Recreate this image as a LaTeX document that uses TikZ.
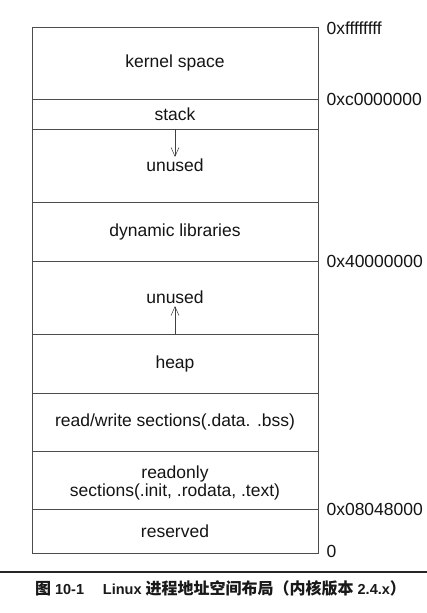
\documentclass[tikz,border=0pt]{standalone}
\usepackage{fontspec}
\setmainfont{Liberation Sans}
\newfontfamily\cjk{Noto Sans CJK SC}
\usetikzlibrary{arrows.meta}

\newcommand{\hanzi}[1]{{\cjk\bfseries\fontsize{16}{16}\selectfont #1}}

\tikzset{
  seg/.style={draw=black!70, line width=0.7pt, rectangle, inner sep=0pt,
              minimum width=286pt, text=black!92,
              font=\fontsize{17.5}{17.5}\selectfont, align=center},
  segtext/.style={inner sep=0pt, text=black!92, align=center,
              font=\fontsize{17.5}{18}\selectfont},
  addr/.style={anchor=west, inner sep=0pt, text=black!92,
               font=\fontsize{17.5}{17.5}\selectfont},
  growarrow/.style={draw=black!75, line width=0.6pt,
               -{Straight Barb[length=9pt,width=8pt,line width=0.5pt]}},
  captionrule/.style={draw=black!85, line width=1.6pt},
}

\begin{document}
\begin{tikzpicture}[x=1pt,y=-1pt]
  \useasboundingbox (0,0) rectangle (427,613);

  % address-space segments, top (high addresses) to bottom
  \node[seg, minimum height=72pt] (kernel)   at (175,63)    {kernel space};
  \node[seg, minimum height=30pt] (stack)    at (175,114)   {stack};
  \node[seg, minimum height=73pt] (unusedA)  at (175,165.5) {unused};
  \node[seg, minimum height=59pt] (dynlib)   at (175,231.5) {dynamic libraries};
  \node[seg, minimum height=73pt] (unusedB)  at (175,297.5) {unused};
  \node[seg, minimum height=59pt] (heap)     at (175,363.5) {heap};
  \node[seg, minimum height=58pt] (rw)       at (175,422)   {read/write sections(.data. .bss)};
  \node[seg, minimum height=58pt] (ro)       at (175,480)   {};
  \node[seg, minimum height=44pt] (reserved) at (175,531)   {reserved};
  \node[segtext] (roText) at ([yshift=-2.5pt]ro.center)
    {readonly\\sections(.init, .rodata, .text)};

  % boundary addresses
  \node[addr] (aTop)  at ([xshift=8pt,yshift=-2pt]kernel.north east) {0xffffffff};
  \node[addr] (aKern) at ([xshift=8pt]kernel.south east)   {0xc0000000};
  \node[addr] (aLib)  at ([xshift=8pt]dynlib.south east)   {0x40000000};
  \node[addr] (aText) at ([xshift=8pt]ro.south east)       {0x08048000};
  \node[addr] (aZero) at ([xshift=8pt,yshift=1.5pt]reserved.south east) {0};

  % growth directions of stack and heap
  \coordinate (stackTip) at (175,157);
  \coordinate (heapTip)  at (175,306);
  \draw[growarrow] (stack.south) -- (stackTip);
  \draw[growarrow] (heap.north) -- (heapTip);

  % caption
  \coordinate (ruleL) at (0,572);
  \coordinate (ruleR) at (427,572);
  \draw[captionrule] (ruleL) -- (ruleR);
  \node[inner sep=0pt, text=black!90, font=\bfseries\fontsize{14.5}{16}\selectfont]
    (caption) at (220.5,588)
    {\hanzi{图} 10-1\hspace{1.3em}Linux \hanzi{进程地址空间布局（内核版本} 2.4.x\hanzi{）}};
\end{tikzpicture}
\end{document}
